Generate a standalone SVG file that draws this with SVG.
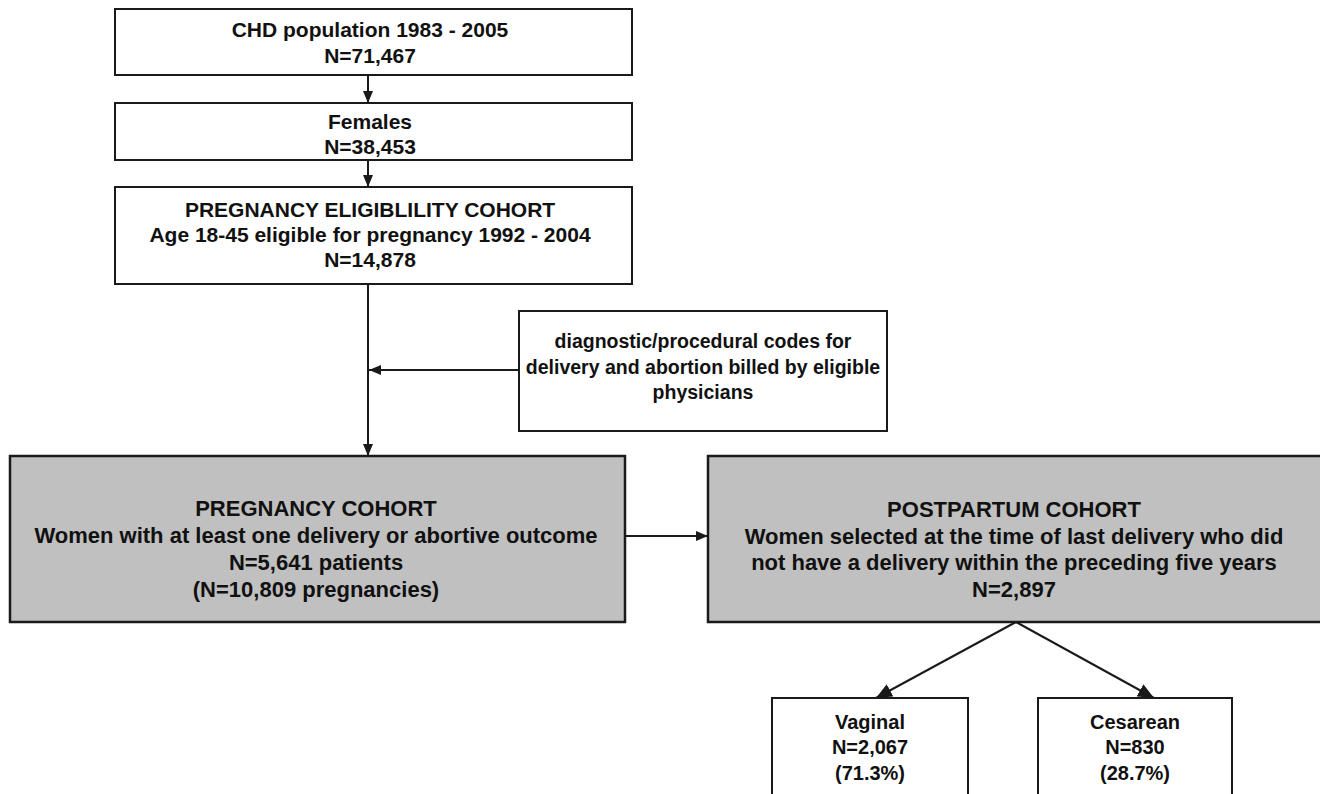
<svg xmlns="http://www.w3.org/2000/svg" width="1320" height="794" viewBox="0 0 1320 794">
<style>
.box{fill:#fff;stroke:#1a1a1a;stroke-width:2}
.gbox{fill:#c0c0c0;stroke:#1a1a1a;stroke-width:2.5}
.t{font-family:"Liberation Sans",Arial,sans-serif;font-weight:bold;font-size:21px;fill:#111;text-anchor:middle}
.ts{font-family:"Liberation Sans",Arial,sans-serif;font-weight:bold;font-size:19.5px;fill:#111;text-anchor:middle}
.tb{font-family:"Liberation Sans",Arial,sans-serif;font-weight:bold;font-size:20px;fill:#111;text-anchor:middle}
.tn{font-family:"Liberation Sans",Arial,sans-serif;font-weight:bold;font-size:22px;fill:#111;text-anchor:middle}
.c{stroke:#1a1a1a;stroke-width:2;fill:none}
</style>
<defs>
<marker id="ah" viewBox="0 0 12 10" refX="12" refY="5" markerWidth="12" markerHeight="10" markerUnits="userSpaceOnUse" orient="auto">
<path d="M0,0L12,5L0,10z" fill="#1a1a1a"/>
</marker>
<marker id="ahL" viewBox="0 0 16 14" refX="16" refY="7" markerWidth="16" markerHeight="14" markerUnits="userSpaceOnUse" orient="auto">
<path d="M0,0L16,7L0,14z" fill="#1a1a1a"/>
</marker>
</defs>
<g id="connectors">
<line class="c" x1="368" y1="75" x2="368" y2="103" marker-end="url(#ah)"/>
<line class="c" x1="368" y1="160" x2="368" y2="187" marker-end="url(#ah)"/>
<line class="c" x1="368" y1="284" x2="368" y2="456" marker-end="url(#ah)"/>
<line class="c" x1="519" y1="370" x2="369" y2="370" marker-end="url(#ah)"/>
<line class="c" x1="625" y1="536" x2="708" y2="536" marker-end="url(#ah)"/>
<line class="c" x1="1016" y1="622" x2="876" y2="698" marker-end="url(#ahL)"/>
<line class="c" x1="1016" y1="622" x2="1154" y2="698" marker-end="url(#ahL)"/>
</g>
<g id="n1">
<rect class="box" x="115" y="9" width="517" height="66"/>
<text class="t" x="370" y="37">CHD population 1983 - 2005</text>
<text class="t" x="370" y="63">N=71,467</text>
</g>
<g id="n2">
<rect class="box" x="115" y="103" width="517" height="57"/>
<text class="t" x="370" y="129">Females</text>
<text class="t" x="370" y="154">N=38,453</text>
</g>
<g id="n3">
<rect class="box" x="115" y="187" width="517" height="97"/>
<text class="t" x="370" y="217">PREGNANCY ELIGIBLILITY COHORT</text>
<text class="t" x="370" y="242">Age 18-45 eligible for pregnancy 1992 - 2004</text>
<text class="t" x="370" y="267">N=14,878</text>
</g>
<g id="n4">
<rect class="box" x="519" y="311" width="368" height="120"/>
<text class="ts" x="703" y="348">diagnostic/procedural codes for</text>
<text class="ts" x="703" y="374">delivery and abortion billed by eligible</text>
<text class="ts" x="703" y="399">physicians</text>
</g>
<g id="n5">
<rect class="gbox" x="10" y="456" width="615" height="166"/>
<text class="tn" x="316" y="516">PREGNANCY COHORT</text>
<text class="tn" x="316" y="543">Women with at least one delivery or abortive outcome</text>
<text class="tn" x="316" y="570">N=5,641 patients</text>
<text class="tn" x="316" y="597">(N=10,809 pregnancies)</text>
</g>
<g id="n6">
<rect class="gbox" x="708" y="456" width="630" height="166"/>
<text class="tn" x="1014" y="517">POSTPARTUM COHORT</text>
<text class="tn" x="1014" y="544">Women selected at the time of last delivery who did</text>
<text class="tn" x="1014" y="570">not have a delivery within the preceding five years</text>
<text class="tn" x="1014" y="597">N=2,897</text>
</g>
<g id="n7">
<rect class="box" x="772" y="698" width="196" height="110"/>
<text class="tb" x="870" y="729">Vaginal</text>
<text class="tb" x="870" y="754">N=2,067</text>
<text class="tb" x="870" y="780">(71.3%)</text>
</g>
<g id="n8">
<rect class="box" x="1038" y="698" width="194" height="110"/>
<text class="tb" x="1135" y="729">Cesarean</text>
<text class="tb" x="1135" y="754">N=830</text>
<text class="tb" x="1135" y="780">(28.7%)</text>
</g>
</svg>
